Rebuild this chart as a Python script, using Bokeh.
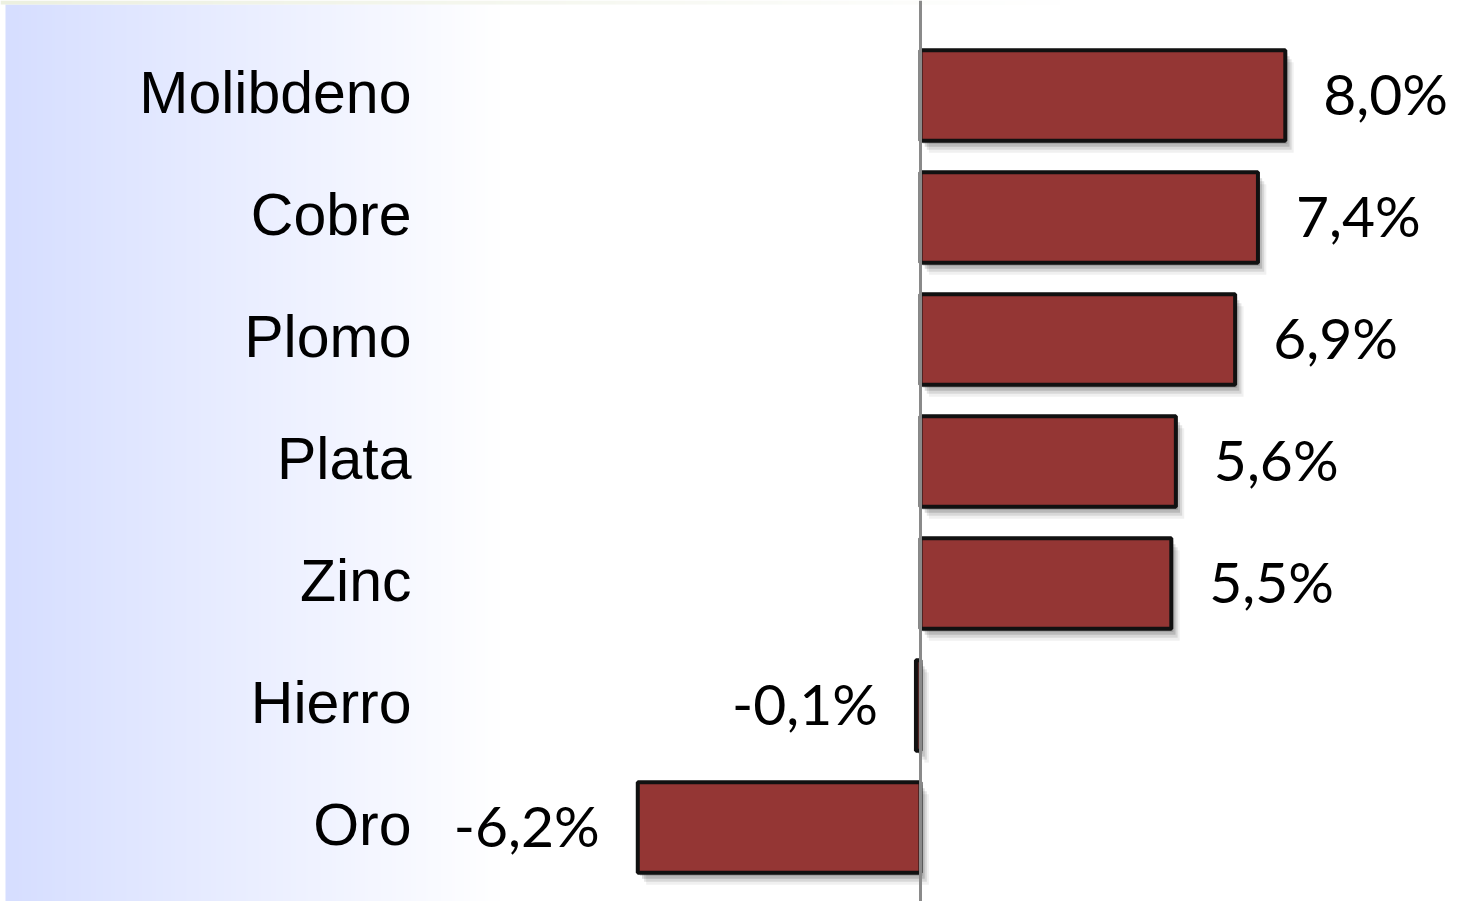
import numpy as np
from bokeh.plotting import figure
from bokeh.models import Range1d, Span, ColumnDataSource
from bokeh.core.properties import value
from bokeh.embed import file_html
from bokeh.resources import INLINE

categories = ["Molibdeno", "Cobre", "Plomo", "Plata", "Zinc", "Hierro", "Oro"]
values = [8.0, 7.4, 6.9, 5.6, 5.5, -0.1, -6.2]
labels = ["8,0%", "7,4%", "6,9%", "5,6%", "5,5%", "-0,1%", "-6,2%"]

W, H = 1459, 901
PX = 45.6          # pixels per percentage point
ZERO_PX = 920      # zero line position in frame px
ROW = 122.0        # pixels per row
FIRST = 95.0       # center of first row from top

x0 = -ZERO_PX / PX
x1 = (W - ZERO_PX) / PX
yt = -FIRST / ROW
yb = (H - FIRST) / ROW

p = figure(width=W, height=H, output_backend="svg", toolbar_location=None,
           x_range=Range1d(x0, x1), y_range=Range1d(yb, yt),
           min_border=0, outline_line_color=None)
p.axis.visible = False
p.grid.visible = False
p.background_fill_color = "white"
p.border_fill_color = "white"

def hgrad(n, c0, c1):
    img = np.zeros((2, n), dtype=np.uint32)
    v = img.view(dtype=np.uint8).reshape((2, n, 4))
    t = np.linspace(0, 1, n)
    for k in range(3):
        v[:, :, k] = (c0[k] + (c1[k] - c0[k]) * t).astype(np.uint8)
    v[:, :, 3] = 255
    return img

# gradient background on the left
gw = 500
p.image_rgba(image=[hgrad(gw, (214, 222, 255), (255, 255, 255))],
             x=x0 + 5 / PX, y=yt + 4 / ROW, dw=(gw - 5) / PX, dh=yb - yt)
# thin strip at top
p.image_rgba(image=[hgrad(1060, (236, 240, 224), (255, 255, 255))],
             x=x0, y=yt, dw=1060 / PX, dh=4 / ROW)

idx = list(range(len(categories)))
src = ColumnDataSource(dict(y=idx, v=values, cat=categories, lab=labels,
                            align=["left" if v >= 0 else "right" for v in values],
                            off=[38 if v >= 0 else -38 for v in values]))

# shadows
for k, a in [(3, 0.16), (6, 0.14), (9, 0.10), (12, 0.06)]:
    sx = k * 0.7 / PX
    sy = k / ROW
    shadow = ColumnDataSource(dict(y=[i + sy for i in idx],
                                   l=[min(0, v) + sx for v in values],
                                   r=[max(0, v) + sx for v in values]))
    p.hbar(y="y", left="l", right="r", height=0.74, source=shadow,
           fill_color="black", fill_alpha=a, line_color=None)

p.hbar(y="y", left=0, right="v", height=0.74, source=src,
       fill_color="#943634", line_color="#111111", line_width=4)

p.add_layout(Span(location=0, dimension="height", line_color="#8a8a8a", line_width=3))

# category labels
lab_x = (411 - ZERO_PX) / PX
p.text(x=lab_x, y="y", text="cat", source=src, text_align="right",
       text_baseline="middle", text_font=value("Liberation Sans"),
       text_font_size="59px", text_color="black", y_offset=-3)

# value labels
p.text(x="v", y="y", text="lab", source=src, text_align="align", x_offset="off",
       y_offset=-3, text_baseline="middle", text_font=value("Lato"),
       text_font_size="57px", text_color="black")

open("out.html", "w").write(file_html(p, INLINE))
